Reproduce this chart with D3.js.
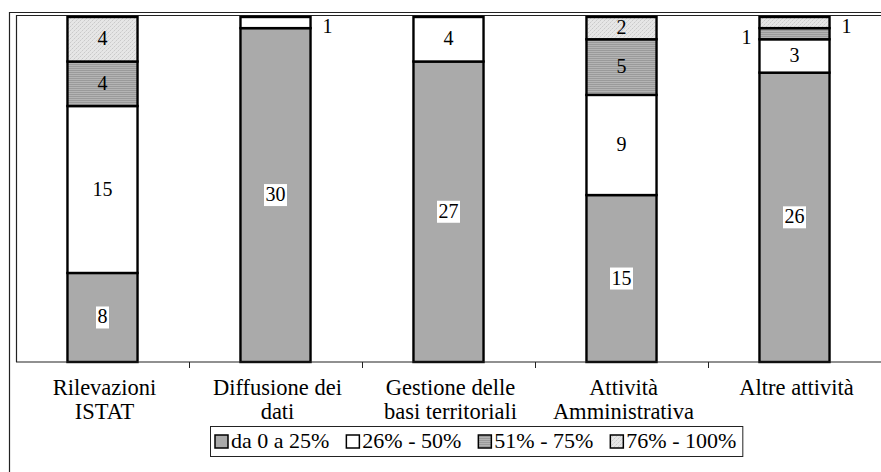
<!DOCTYPE html>
<html>
<head>
<meta charset="utf-8">
<script src="https://cdn.jsdelivr.net/npm/d3@7/dist/d3.min.js"></script>
<style>
  body { margin: 0; background: #fff; }
  svg text { font-family: "Liberation Serif", serif; }
</style>
</head>
<body>
<div id="chart"></div>
<script>
// categories (multi-line labels)
const categories = ['Rilevazioni ISTAT', 'Diffusione dei dati', 'Gestione delle basi territoriali', 'Attività Amministrativa', 'Altre attività'];
const categoryLines = [
  ['Rilevazioni', 'ISTAT'],
  ['Diffusione dei', 'dati'],
  ['Gestione delle', 'basi territoriali'],
  ['Attività', 'Amministrativa'],
  ['Altre attività']
];

// series
const seriesNames = ['da 0 a 25%', '26% - 50%', '51% - 75%', '76% - 100%'];
const s0to25 = [8, 30, 27, 15, 26];
const s26to50 = [15, 1, 4, 9, 3];
const s51to75 = [4, 0, 0, 5, 1];
const s76to100 = [4, 0, 0, 2, 1];
const seriesValues = [s0to25, s26to50, s51to75, s76to100];

const width = 881, height = 472;
const plot = { left: 16, right: 881, top: 17, bottom: 362 };
const FONT = '"Liberation Serif", serif';

const svg = d3.select('#chart').append('svg')
  .attr('width', width)
  .attr('height', height)
  .style('display', 'block');

// Patterns for the textured series
const defs = svg.append('defs');
const stripes = defs.append('pattern')
  .attr('id', 'pat-stripes')
  .attr('patternUnits', 'userSpaceOnUse')
  .attr('width', 4).attr('height', 2);
stripes.append('rect').attr('width', 4).attr('height', 2).attr('fill', '#b4b4b4');
stripes.append('rect').attr('width', 4).attr('height', 1).attr('fill', '#9a9a9a');

const dots = defs.append('pattern')
  .attr('id', 'pat-dots')
  .attr('patternUnits', 'userSpaceOnUse')
  .attr('width', 4).attr('height', 4);
dots.append('rect').attr('width', 4).attr('height', 4).attr('fill', '#e6e6e6');
dots.append('rect').attr('x', 0).attr('y', 0).attr('width', 1).attr('height', 1).attr('fill', '#cacaca');
dots.append('rect').attr('x', 2).attr('y', 2).attr('width', 1).attr('height', 1).attr('fill', '#cacaca');
dots.append('rect').attr('x', 1).attr('y', 3).attr('width', 1).attr('height', 1).attr('fill', '#d8d8d8');
dots.append('rect').attr('x', 3).attr('y', 1).attr('width', 1).attr('height', 1).attr('fill', '#d8d8d8');

const fills = ['#aaaaaa', '#ffffff', 'url(#pat-stripes)', 'url(#pat-dots)'];

// Outer chart frame
svg.append('path')
  .attr('d', `M9.5,${height + 5}V12.5H${width + 5}`)
  .attr('fill', 'none').attr('stroke', '#222').attr('stroke-width', 1.2);

// Plot area frame
svg.append('path')
  .attr('d', `M16.5,${plot.bottom}V15.5H${width + 5}`)
  .attr('fill', 'none').attr('stroke', '#222').attr('stroke-width', 1.2);

// Scales
const x = d3.scaleBand()
  .domain(categories)
  .range([plot.left, plot.right])
  .paddingInner(0.595)
  .paddingOuter(0.2975);

const xOuter = d3.scaleBand()
  .domain(categories)
  .range([plot.left, plot.right]);

const totals = categories.map((c, i) => d3.sum(seriesValues, s => s[i]));
const y = d3.scaleLinear()
  .domain([0, d3.max(totals)])
  .range([plot.bottom, plot.top]);

// Stack
const table = categories.map((c, i) => {
  const row = { category: c };
  seriesNames.forEach((n, k) => { row[n] = seriesValues[k][i]; });
  return row;
});
const stacked = d3.stack().keys(seriesNames)(table);

// Bars
const layers = svg.append('g').selectAll('g.layer')
  .data(stacked)
  .join('g')
  .attr('class', 'layer')
  .attr('fill', (d, k) => fills[k]);

layers.selectAll('rect')
  .data(d => d.filter(p => p[1] > p[0]))
  .join('rect')
  .attr('x', d => x(d.data.category))
  .attr('width', x.bandwidth())
  .attr('y', d => y(d[1]))
  .attr('height', d => y(d[0]) - y(d[1]))
  .attr('stroke', '#000')
  .attr('stroke-width', 2.4);

// X axis
const xAxis = svg.append('g')
  .attr('transform', `translate(0, ${plot.bottom})`);
xAxis.append('line')
  .attr('x1', plot.left).attr('x2', width + 5)
  .attr('stroke', '#222').attr('stroke-width', 1.2);
xAxis.selectAll('line.tick')
  .data(categories.slice(1))
  .join('line')
  .attr('class', 'tick')
  .attr('x1', d => Math.round(xOuter(d)) + 0.5)
  .attr('x2', d => Math.round(xOuter(d)) + 0.5)
  .attr('y1', 0).attr('y2', 6)
  .attr('stroke', '#222');

// Category labels
const catText = svg.append('g').selectAll('text')
  .data(categories)
  .join('text')
  .attr('text-anchor', 'middle')
  .attr('font-size', 22.5)
  .style('font-family', FONT)
  .attr('fill', '#000');
catText.selectAll('tspan')
  .data((d, i) => categoryLines[i].map(t => ({ t, c: d })))
  .join('tspan')
  .attr('x', d => xOuter(d.c) + xOuter.bandwidth() / 2 + 2)
  .attr('y', (d, j) => plot.bottom + 33 + j * 24)
  .text(d => d.t);

// Data labels
const labelG = svg.append('g');
stacked.forEach((layer, k) => {
  layer.forEach(p => {
    const v = p[1] - p[0];
    if (v <= 0) return;
    const y0 = y(p[0]), y1 = y(p[1]);
    const h = y0 - y1;
    const bx = x(p.data.category);
    let tx = bx + x.bandwidth() / 2;
    let ty = (y0 + y1) / 2 + 6;
    let anchor = 'middle';
    if (h < 16) {
      ty = (y0 + y1) / 2 + 10;
      if (k === 2) { tx = bx - 8; anchor = 'end'; }
      else { tx = bx + x.bandwidth() + 12; anchor = 'start'; }
    }
    if (k === 0) {
      // white box behind labels of the first series
      const w = String(v).length * 10 + 3;
      labelG.append('rect')
        .attr('x', tx - w / 2).attr('y', ty - 17)
        .attr('width', w).attr('height', 22)
        .attr('fill', '#fff');
    }
    labelG.append('text')
      .attr('x', tx).attr('y', ty)
      .attr('text-anchor', anchor)
      .attr('font-size', 20)
      .style('font-family', FONT)
      .attr('fill', '#000')
      .text(v);
  });
});

// Legend
const legend = svg.append('g');
const legendBox = legend.append('rect')
  .attr('fill', '#fff').attr('stroke', '#222').attr('stroke-width', 1);
const lx0 = 210, ly = 426, lh = 30;
let cx = lx0 + 5;
seriesNames.forEach((n, k) => {
  legend.append('rect')
    .attr('x', cx).attr('y', ly + 9)
    .attr('width', 13).attr('height', 13)
    .attr('fill', fills[k])
    .attr('stroke', '#000').attr('stroke-width', 1.5);
  const t = legend.append('text')
    .attr('x', cx + 16).attr('y', ly + 22)
    .attr('font-size', 22)
    .style('font-family', FONT)
    .attr('fill', '#000')
    .text(n);
  cx += 16 + t.node().getComputedTextLength() + 17;
});
legendBox
  .attr('x', lx0 + 0.5).attr('y', ly + 0.5)
  .attr('width', cx - 17 + 6 - lx0).attr('height', lh);
</script>
</body>
</html>
